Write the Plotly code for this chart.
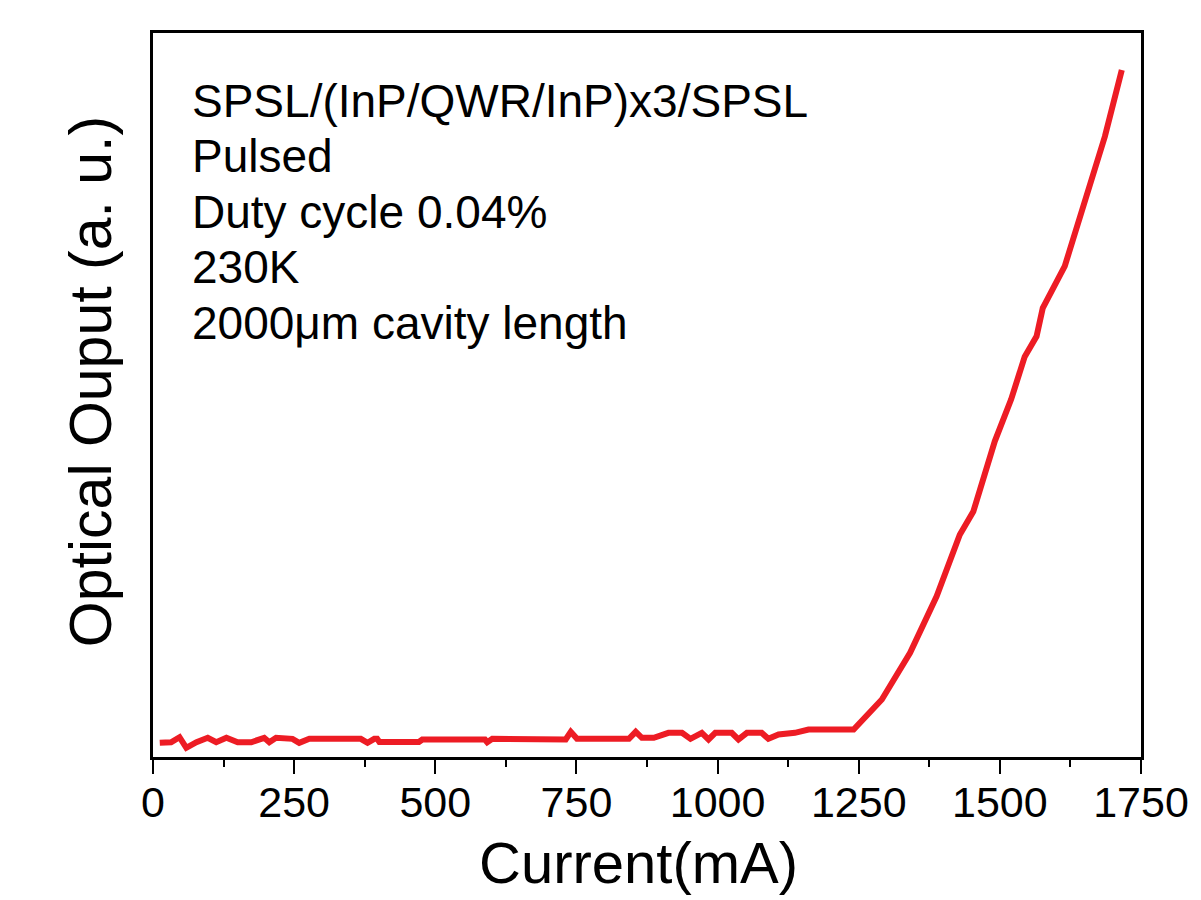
import plotly.graph_objects as go

# L-I curve: drive current (mA) vs optical output (arbitrary units)
current_mA = [
    12, 32, 47, 59, 77, 97, 112, 130, 150, 174, 197, 206, 218, 247, 259, 277,
    368, 380, 392, 397, 401, 471, 477, 588, 592, 601, 731, 740, 751, 843, 855,
    866, 887, 913, 937, 952, 972, 984, 996, 1025, 1037, 1052, 1078, 1090, 1108,
    1137, 1161, 1241, 1291, 1341, 1388, 1409, 1429, 1453, 1491, 1520, 1544,
    1565, 1576, 1615, 1668, 1686, 1716,
]
optical_output = [
    1.96, 2.04, 2.73, 1.27, 2.04, 2.65, 2.04, 2.65, 2.04, 2.04, 2.65, 2.04,
    2.65, 2.51, 1.96, 2.51, 2.51, 1.96, 2.51, 2.51, 2.07, 2.07, 2.42, 2.42,
    2.04, 2.51, 2.42, 3.48, 2.51, 2.51, 3.48, 2.65, 2.65, 3.34, 3.34, 2.51,
    3.34, 2.42, 3.34, 3.34, 2.42, 3.34, 3.34, 2.51, 3.10, 3.34, 3.80, 3.80,
    7.94, 14.4, 22.2, 26.3, 30.7, 33.9, 43.6, 49.4, 55.3, 58.1, 62.0, 67.8,
    80.7, 85.7, 94.9,
]

x_ticks = [0, 250, 500, 750, 1000, 1250, 1500, 1750]
x_ticktext = ["0", "250", "500", "750", "1000", "1250", "1500", "1750"]

info_lines = [
    "SPSL/(InP/QWR/InP)x3/SPSL",
    "Pulsed",
    "Duty cycle 0.04%",
    "230K",
    "2000\u03bcm cavity length",
]

FONT = "Arial, Liberation Sans, sans-serif"
RED = "#ED1C24"

fig = go.Figure()
fig.add_trace(go.Scatter(
    x=current_mA, y=optical_output, mode="lines",
    line=dict(color=RED, width=6),
    showlegend=False, hoverinfo="skip",
))

W, H = 1201, 900
ml, mr, mt, mb = 153, 58, 33, 143
plot_h = H - mt - mb


def paper_y(py):
    return (H - mb - py) / plot_h


annotations = []
line_top = 100.5
line_gap = 55.5
for i, txt in enumerate(info_lines):
    annotations.append(dict(
        text=txt, xref="paper", yref="paper",
        x=(190 - ml) / (W - ml - mr), y=paper_y(line_top + i * line_gap),
        xanchor="left", yanchor="middle", showarrow=False,
        font=dict(family=FONT, size=46, color="black"),
    ))

annotations.append(dict(
    text="Current(mA)", xref="paper", yref="paper",
    x=(639 - ml) / (W - ml - mr), y=paper_y(862),
    xanchor="center", yanchor="middle", showarrow=False,
    font=dict(family=FONT, size=58, color="black"),
))
annotations.append(dict(
    text="Optical Ouput (a. u.)", xref="paper", yref="paper",
    x=(91 - ml) / (W - ml - mr), y=paper_y(382),
    xanchor="center", yanchor="middle", showarrow=False, textangle=-90,
    font=dict(family=FONT, size=59, color="black"),
))

fig.update_layout(
    width=W, height=H,
    margin=dict(l=ml, r=mr, t=mt, b=mb, pad=0),
    paper_bgcolor="white", plot_bgcolor="white",
    font=dict(family=FONT, color="black"),
    annotations=annotations,
    xaxis=dict(
        range=[0, 1750], tickvals=x_ticks, ticktext=x_ticktext,
        ticks="outside", ticklen=14, tickwidth=2, tickcolor="black",
        ticklabelstandoff=-8,
        minor=dict(dtick=125, tick0=0, ticks="outside", ticklen=7,
                   tickwidth=2, tickcolor="black", showgrid=False),
        tickfont=dict(family=FONT, size=43, color="black"),
        showline=True, linecolor="black", linewidth=2.5, mirror=True,
        showgrid=False, zeroline=False,
    ),
    yaxis=dict(
        range=[0, 100], showticklabels=False, ticks="",
        showline=True, linecolor="black", linewidth=2.5, mirror=True,
        showgrid=False, zeroline=False,
    ),
)

fig.write_html("out.html")
